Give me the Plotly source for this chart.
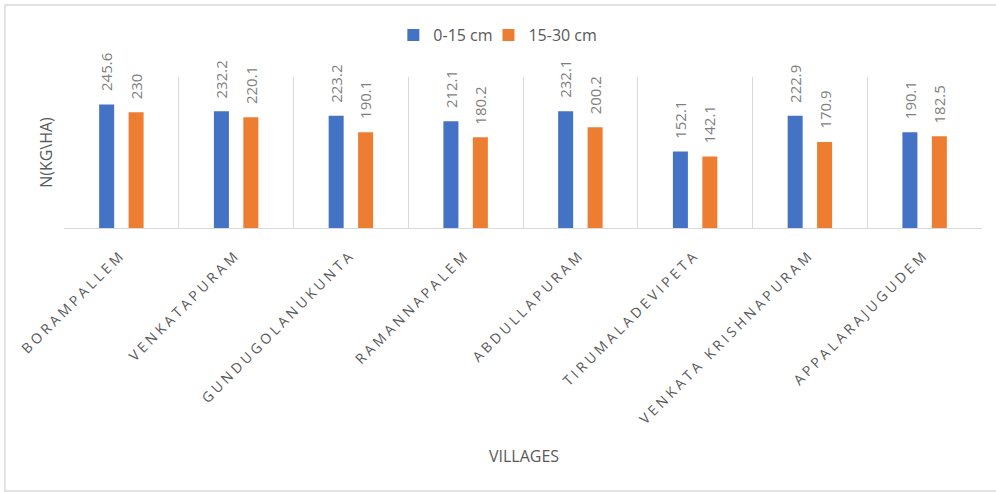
import plotly.graph_objects as go

villages = ["BORAMPALLEM", "VENKATAPURAM", "GUNDUGOLANUKUNTA", "RAMANNAPALEM",
            "ABDULLAPURAM", "TIRUMALADEVIPETA", "VENKATA KRISHNAPURAM", "APPALARAJUGUDEM"]
depth_0_15 = [245.6, 232.2, 223.2, 212.1, 232.1, 152.1, 222.9, 190.1]
depth_15_30 = [230, 220.1, 190.1, 180.2, 200.2, 142.1, 170.9, 182.5]
series_names = ["0-15 cm", "15-30 cm"]
colors = ["#4472C4", "#ED7D31"]

FONT = "Open Sans"
fig = go.Figure()
for name, vals, col, lg in zip(series_names, [depth_0_15, depth_15_30], colors, ["legend", "legend2"]):
    fig.add_trace(go.Bar(x=villages, y=vals, name=name, marker=dict(color=col, line=dict(width=0)),
                         offsetgroup=name, legend=lg, showlegend=True))

annotations = []
for i, (vals, off) in enumerate(zip([depth_0_15, depth_15_30], [-0.1285, 0.1285])):
    for j, v in enumerate(vals):
        annotations.append(dict(x=j + off, y=v, xref="x", yref="y", text=f"{v:g}",
                                textangle=-90, showarrow=False, yanchor="bottom", xanchor="center",
                                yshift=11, font=dict(family=FONT, size=15, color="#7F7F7F")))

annotations.append(dict(text="VILLAGES", xref="paper", yref="paper", x=(523 - 64) / 917, y=(228 - 456) / 151,
                        showarrow=False, xanchor="center", yanchor="middle",
                        font=dict(family=FONT, size=16, color="#595959")))

ticktext = [f'<span style="letter-spacing:3.4px">{v}</span>' for v in villages]

legend_common = dict(orientation="h", y=(228 - 35) / 151, xanchor="left", yanchor="middle",
                     font=dict(family=FONT, size=16, color="#595959"), itemwidth=30,
                     bgcolor="rgba(0,0,0,0)")

fig.update_layout(
    width=996, height=492,
    margin=dict(l=64, r=14, t=77, b=264),
    paper_bgcolor="white", plot_bgcolor="white",
    barmode="group", bargap=0.487, bargroupgap=0.49,
    font=dict(family=FONT, color="#595959"),
    showlegend=True,
    legend=dict(x=(393 - 64) / 917, **legend_common),
    legend2=dict(x=(488 - 64) / 917, **legend_common),
    xaxis=dict(type="category", tickson="boundaries", showgrid=True, gridcolor="#D9D9D9", gridwidth=1,
               showline=True, linecolor="#D9D9D9", linewidth=1, ticks="", tickangle=-45,
               tickmode="array", tickvals=villages, ticktext=ticktext, ticklabelstandoff=12,
               tickfont=dict(family=FONT, size=14, color="#595959"), range=[-0.5, 7.5]),
    yaxis=dict(range=[0, 300], showgrid=False, showticklabels=False, zeroline=False, showline=False,
               ticks="",
               title=dict(text="N(KG\\HA)", font=dict(family=FONT, size=16, color="#595959"), standoff=6)),
    annotations=annotations,
    shapes=[dict(type="rect", xref="paper", yref="paper",
                 x0=(5 - 64) / 917, x1=(1010 - 64) / 917, y0=(228 - 491) / 151, y1=(228 - 5) / 151,
                 line=dict(color="#D9D9D9", width=1.5), fillcolor="rgba(0,0,0,0)", layer="below")],
)

fig.write_html("out.html")
